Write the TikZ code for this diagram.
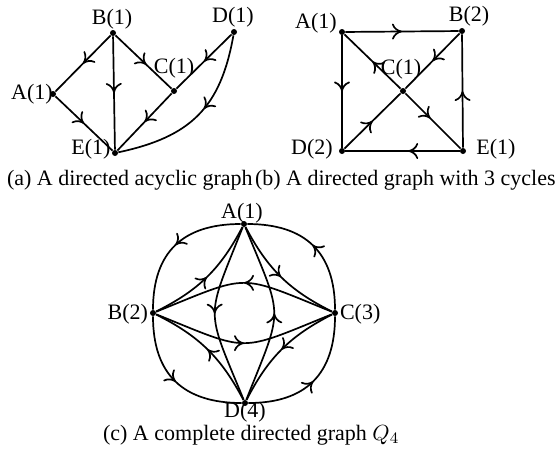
\documentclass[tikz,border=0pt]{standalone}
\usepackage{fontspec}
\setmainfont{Liberation Serif}
\usetikzlibrary{arrows.meta, decorations.markings}

\tikzset{
  vertex/.style={circle, fill, inner sep=0pt, minimum size=3pt},
  edge/.style={line width=0.85pt, postaction={decorate},
    decoration={markings, mark=at position #1 with {\arrow{To[length=5pt,width=8pt]}}}},
  edge/.default=0.5,
}

\begin{document}
\begin{tikzpicture}[x=0.5pt, y=0.5pt, font=\fontsize{11}{13}\selectfont]
    \useasboundingbox (0,0) rectangle (555,-451);

    % (a) directed acyclic graph
    \node[vertex] (aA) at (53,-94) {};
    \node[vertex] (aB) at (113,-33) {};
    \node[vertex] (aC) at (174,-91) {};
    \node[vertex] (aD) at (234,-32) {};
    \node[vertex] (aE) at (115,-153) {};

    \node (laA) at (32,-94) {A(1)};
    \node (laB) at (112,-19) {B(1)};
    \node (laC) at (174,-68) {C(1)};
    \node (laD) at (233,-17) {D(1)};
    \node (laE) at (91,-149) {E(1)};

    \draw[edge] (aB) -- (aA);
    \draw[edge] (aB) -- (aE);
    \draw[edge=0.55] (aB) -- (aC);
    \draw[edge] (aA) -- (aE);
    \draw[edge] (aC) -- (aE);
    \draw[edge] (aD) -- (aC);
    \draw[edge=0.45] (aD) to[out=-100, in=12, looseness=1.15] (aE);

    % (b) directed graph with 3 cycles
    \node[vertex] (bA) at (342,-32) {};
    \node[vertex] (bB) at (462,-31) {};
    \node[vertex] (bC) at (403,-91) {};
    \node[vertex] (bD) at (342,-151) {};
    \node[vertex] (bE) at (463,-151) {};

    \node (lbA) at (316,-23) {A(1)};
    \node (lbB) at (469,-16) {B(2)};
    \node (lbC) at (401,-69) {C(1)};
    \node (lbD) at (312,-149) {D(2)};
    \node (lbE) at (496,-149) {E(1)};

    \draw[edge] (bA) -- (bB);
    \draw[edge] (bA) -- (bD);
    \draw[edge] (bC) -- (bA);
    \draw[edge] (bB) -- (bC);
    \draw[edge=0.45] (bC) -- (bE);
    \draw[edge] (bD) -- (bC);
    \draw[edge=0.45] (bE) -- (bD);
    \draw[edge] (bE) -- (bB);

    \node[anchor=west] (capa) at (0,-180) {(a) A directed acyclic graph};
    \node[anchor=west] (capb) at (248,-180) {(b) A directed graph with 3 cycles};

    % (c) complete directed graph
    \node[vertex] (cA) at (244,-224) {};
    \node[vertex] (cB) at (153,-313) {};
    \node[vertex] (cC) at (335,-313) {};
    \node[vertex] (cD) at (245,-403) {};

    \node (lcA) at (242,-213) {A(1)};
    \node[anchor=east] (lcB) at (155,-314) {B(2)};
    \node[anchor=west] (lcC) at (333,-314) {C(3)};
    \node (lcD) at (245,-412) {D(4)};

    % outer arcs
    \draw[edge] (cA) to[out=180, in=90, looseness=1.2] (cB);
    \draw[edge] (cC) to[out=90, in=0, looseness=1.2] (cA);
    \draw[edge] (cB) to[out=-90, in=180, looseness=1.2] (cD);
    \draw[edge] (cD) to[out=0, in=-90, looseness=1.2] (cC);
    % inner arcs
    \draw[edge] (cB) to[bend right=18] (cA);
    \draw[edge] (cA) to[bend right=18] (cC);
    \draw[edge] (cD) to[bend right=18] (cB);
    \draw[edge] (cC) to[bend right=18] (cD);
    \draw[edge] (cC) to[bend right=22, looseness=1.5] (cB);
    \draw[edge] (cB) to[bend right=22, looseness=1.5] (cC);
    \draw[edge] (cA) to[bend right=22, looseness=1.5] (cD);
    \draw[edge] (cD) to[bend right=22, looseness=1.5] (cA);

    \node[anchor=west] (capc) at (96,-435) {(c) A complete directed graph $Q_4$};
\end{tikzpicture}
\end{document}
